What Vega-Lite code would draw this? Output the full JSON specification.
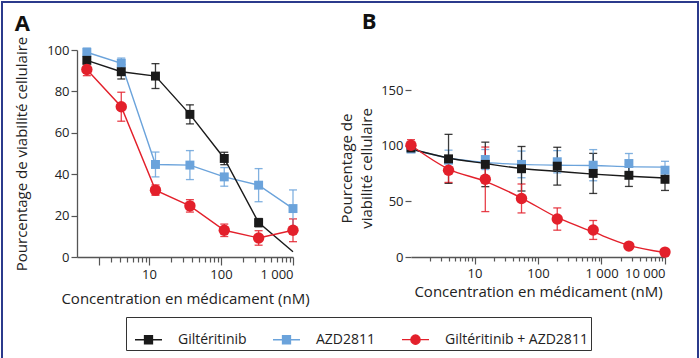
{
  "$schema": "https://vega.github.io/schema/vega-lite/v6.json",
  "background": "white",
  "padding": 1,
  "datasets": {
    "a": [
      {"series": "AZD2811", "conc": 1.37, "mean": 98.9, "err": 2},
      {"series": "AZD2811", "conc": 4.12, "mean": 93.6, "err": 2.5},
      {"series": "AZD2811", "conc": 12.3, "mean": 44.7, "err": 6},
      {"series": "AZD2811", "conc": 37, "mean": 44.4, "err": 7},
      {"series": "AZD2811", "conc": 111, "mean": 38.7, "err": 4.5},
      {"series": "AZD2811", "conc": 333, "mean": 34.7, "err": 8},
      {"series": "AZD2811", "conc": 1000, "mean": 23.4, "err": 9},
      {"series": "Giltéritinib", "conc": 1.37, "mean": 95, "err": 3},
      {"series": "Giltéritinib", "conc": 4.12, "mean": 89.5, "err": 3.5},
      {"series": "Giltéritinib", "conc": 12.3, "mean": 87.4, "err": 6},
      {"series": "Giltéritinib", "conc": 37, "mean": 68.9, "err": 4.6},
      {"series": "Giltéritinib", "conc": 111, "mean": 47.6, "err": 3},
      {"series": "Giltéritinib", "conc": 333, "mean": 16.6, "err": 2},
      {"series": "Giltéritinib", "conc": 1000, "mean": 2.5, "err": 0},
      {"series": "Giltéritinib + AZD2811", "conc": 1.37, "mean": 90.6, "err": 3},
      {"series": "Giltéritinib + AZD2811", "conc": 4.12, "mean": 72.6, "err": 7},
      {"series": "Giltéritinib + AZD2811", "conc": 12.3, "mean": 32.3, "err": 2.5},
      {"series": "Giltéritinib + AZD2811", "conc": 37, "mean": 24.7, "err": 3},
      {"series": "Giltéritinib + AZD2811", "conc": 111, "mean": 12.9, "err": 3},
      {"series": "Giltéritinib + AZD2811", "conc": 333, "mean": 9.2, "err": 3.5},
      {"series": "Giltéritinib + AZD2811", "conc": 1000, "mean": 12.9, "err": 5.5}
    ],
    "b": [
      {"series": "AZD2811", "conc": 1, "mean": 97, "err": 2, "fit": 97},
      {"series": "AZD2811", "conc": 3.9, "mean": 87, "err": 9, "fit": 89},
      {"series": "AZD2811", "conc": 14.8, "mean": 87.6, "err": 9, "fit": 85},
      {"series": "AZD2811", "conc": 55, "mean": 83.2, "err": 12, "fit": 83.2},
      {"series": "AZD2811", "conc": 201, "mean": 85.6, "err": 10, "fit": 82.5},
      {"series": "AZD2811", "conc": 740, "mean": 82.5, "err": 14, "fit": 82.2},
      {"series": "AZD2811", "conc": 2700, "mean": 84, "err": 9, "fit": 81.2},
      {"series": "AZD2811", "conc": 10000, "mean": 78, "err": 8, "fit": 80.8},
      {"series": "Giltéritinib", "conc": 1, "mean": 98, "err": 2, "fit": 97},
      {"series": "Giltéritinib", "conc": 3.9, "mean": 88.2, "err": 22, "fit": 89},
      {"series": "Giltéritinib", "conc": 14.8, "mean": 83.2, "err": 20, "fit": 84},
      {"series": "Giltéritinib", "conc": 55, "mean": 79.3, "err": 20, "fit": 79.5},
      {"series": "Giltéritinib", "conc": 201, "mean": 81.6, "err": 17, "fit": 77},
      {"series": "Giltéritinib", "conc": 740, "mean": 75.1, "err": 18, "fit": 74.5},
      {"series": "Giltéritinib", "conc": 2700, "mean": 73.4, "err": 10, "fit": 72.5},
      {"series": "Giltéritinib", "conc": 10000, "mean": 69.8, "err": 10, "fit": 71},
      {"series": "Giltéritinib + AZD2811", "conc": 1, "mean": 100.4, "err": 5, "fit": 100.4},
      {"series": "Giltéritinib + AZD2811", "conc": 3.9, "mean": 78, "err": 11, "fit": 79},
      {"series": "Giltéritinib + AZD2811", "conc": 14.8, "mean": 69.8, "err": 29, "fit": 68},
      {"series": "Giltéritinib + AZD2811", "conc": 55, "mean": 52.6, "err": 13, "fit": 53},
      {"series": "Giltéritinib + AZD2811", "conc": 201, "mean": 34.1, "err": 10, "fit": 35.5},
      {"series": "Giltéritinib + AZD2811", "conc": 740, "mean": 24.3, "err": 8.5, "fit": 22.5},
      {"series": "Giltéritinib + AZD2811", "conc": 2700, "mean": 9.8, "err": 0, "fit": 10.5},
      {"series": "Giltéritinib + AZD2811", "conc": 10000, "mean": 4.4, "err": 0, "fit": 4}
    ]
  },
  "config": {
    "font": "Open Sans",
    "view": {"stroke": null},
    "axis": {
      "domainColor": "#555555",
      "tickColor": "#555555",
      "labelFont": "Open Sans",
      "labelFontSize": 13,
      "labelColor": "#222222",
      "titleFont": "Open Sans",
      "titleFontSize": 15,
      "titleFontWeight": "normal",
      "titleColor": "#222222",
      "grid": false,
      "tickSize": 6,
      "domainWidth": 1.3,
      "tickWidth": 1.2
    },
    "title": {"font": "Open Sans", "fontSize": 22, "fontWeight": "bold", "anchor": "start", "frame": "bounds", "color": "#111111"}
  },
  "spacing": 29,
  "hconcat": [
    {
      "width": 216,
      "height": 207,
      "title": {"text": "A", "offset": 0},
      "data": {"name": "a"},
      "encoding": {
        "x": {
          "field": "conc", "type": "quantitative",
          "scale": {"type": "log", "domain": [1, 1000], "nice": false},
          "axis": {
            "title": "Concentration en médicament (nM)",
            "values": [2, 3, 4, 5, 6, 7, 8, 9, 10, 20, 30, 40, 50, 60, 70, 80, 90, 100, 200, 300, 400, 500, 600, 700, 800, 900, 1000],
            "labelExpr": "datum.value == 10 ? '10' : datum.value == 100 ? '100' : datum.value == 1000 ? '1 000' : ''",
            "tickSize": {"condition": {"test": "datum.value == 2 || datum.value == 10 || datum.value == 100 || datum.value == 1000", "value": 8}, "value": 5},
            "labelPadding": 3,
            "titlePadding": 10
          }
        },
        "color": {
          "field": "series", "type": "nominal",
          "scale": {"domain": ["Giltéritinib", "AZD2811", "Giltéritinib + AZD2811"], "range": ["#1a1a1a", "#6ba3db", "#e3202b"]}
        }
      },
      "layer": [
        {
          "mark": {"type": "line", "strokeWidth": 1.4},
          "encoding": {
            "y": {"field": "mean", "type": "quantitative", "title": "Pourcentage de viabilité cellulaire", "scale": {"domain": [0, 100], "nice": false}, "axis": {"values": [0, 20, 40, 60, 80, 100], "titlePadding": 17}}
          }
        },
        {
          "transform": [{"filter": "datum.conc < 1000 || datum.series != 'Giltéritinib'"}],
          "mark": {"type": "errorbar", "ticks": {"size": 8}, "thickness": 1.3, "opacity": 0.85},
          "encoding": {
            "y": {"field": "mean", "type": "quantitative", "title": "Pourcentage de viabilité cellulaire"},
            "yError": {"field": "err"}
          }
        },
        {
          "transform": [{"filter": "datum.series != 'Giltéritinib + AZD2811' && (datum.conc < 1000 || datum.series != 'Giltéritinib')"}],
          "mark": {"type": "point", "shape": "square", "size": 80, "filled": true, "opacity": 1},
          "encoding": {
            "y": {"field": "mean", "type": "quantitative", "title": "Pourcentage de viabilité cellulaire"},
            "color": {
              "field": "series", "type": "nominal",
              "legend": {
                "title": null,
                "orient": "none",
                "legendX": 49,
                "legendY": 267,
                "direction": "horizontal",
                "columns": 3,
                "strokeColor": "#333333",
                "padding": 3,
                "columnPadding": 20,
                "labelOffset": 10,
                "labelFont": "Open Sans",
                "labelFontSize": 14,
                "labelColor": "#222222",
                "symbolSize": 1369,
                "symbolStrokeWidth": 1.3,
                "symbolOpacity": 1,
                "symbolType": "M-0.73,0H-0.216M0.216,0H0.73M-0.216,-0.216H0.216V0.216H-0.216Z",
                "encode": {
                  "symbols": {
                    "update": {
                      "shape": {"signal": "datum.value == 'Giltéritinib + AZD2811' ? 'M-0.73,0H-0.25M0.25,0H0.73M0.25,0A0.25,0.25,0,1,1,-0.25,0A0.25,0.25,0,1,1,0.25,0Z' : 'M-0.73,0H-0.216M0.216,0H0.73M-0.216,-0.216H0.216V0.216H-0.216Z'"},
                      "size": {"value": 1369},
                      "fill": {"scale": "color", "field": "value"},
                      "stroke": {"scale": "color", "field": "value"},
                      "strokeWidth": {"value": 1.3},
                      "opacity": {"value": 1}
                    }
                  }
                }
              }
            }
          }
        },
        {
          "transform": [{"filter": "datum.series == 'Giltéritinib + AZD2811'"}],
          "mark": {"type": "point", "shape": "circle", "size": 130, "filled": true, "opacity": 1},
          "encoding": {
            "y": {"field": "mean", "type": "quantitative", "title": "Pourcentage de viabilité cellulaire"}
          }
        }
      ]
    },
    {
      "width": 254,
      "height": 207,
      "title": {"text": "B", "offset": 16, "dx": 22},
      "data": {"name": "b"},
      "encoding": {
        "x": {
          "field": "conc", "type": "quantitative",
          "scale": {"type": "log", "domain": [1, 10000], "nice": false},
          "axis": {
            "title": "Concentration en médicament (nM)",
            "values": [2, 3, 4, 5, 6, 7, 8, 9, 10, 20, 30, 40, 50, 60, 70, 80, 90, 100, 200, 300, 400, 500, 600, 700, 800, 900, 1000, 2000, 3000, 4000, 5000, 6000, 7000, 8000, 9000, 10000],
            "labelExpr": "datum.value == 10 ? '10' : datum.value == 100 ? '100' : datum.value == 1000 ? '1 000' : datum.value == 10000 ? '10 000' : ''",
            "tickSize": {"condition": {"test": "datum.value == 10 || datum.value == 100 || datum.value == 1000 || datum.value == 10000", "value": 7}, "value": 4},
            "labelPadding": 3,
            "titlePadding": 4
          }
        },
        "color": {"field": "series", "type": "nominal"}
      },
      "layer": [
        {
          "data": {"values": [{"f": 0}]},
          "mark": {"type": "rule", "color": "#555555", "strokeWidth": 1.3},
          "encoding": {
            "x": {"datum": 1, "type": "quantitative"},
            "y": {"datum": 0, "type": "quantitative"},
            "y2": {"datum": 150},
            "color": null
          }
        },
        {
          "data": {"values": [{"f": 0}]},
          "mark": {"type": "point", "opacity": 0, "filled": true},
          "encoding": {
            "x": {"datum": 1, "type": "quantitative"},
            "y": {"datum": 0, "type": "quantitative"},
            "color": null,
            "fill": {
              "field": "f", "type": "quantitative",
              "scale": {"domain": [0, 1], "range": ["#ffffff", "#ffffff"]},
              "legend": {
                "orient": "none",
                "legendX": -75,
                "legendY": -48,
                "direction": "horizontal",
                "title": null,
                "labels": false,
                "padding": 0,
                "gradientLength": 696,
                "gradientThickness": 354,
                "gradientStrokeWidth": 0,
                "strokeColor": "#2b3a8c",
                "encode": {
                  "legend": {"update": {"strokeWidth": {"value": 2}}},
                  "gradient": {"update": {"opacity": {"value": 0}}}
                }
              }
            }
          }
        },
        {
          "mark": {"type": "line", "strokeWidth": 1.4, "interpolate": "monotone"},
          "encoding": {
            "y": {"field": "fit", "type": "quantitative", "title": ["Pourcentage de", "viabilité cellulaire"], "scale": {"domain": [0, 186], "nice": false}, "axis": {"values": [0, 50, 100, 150], "domain": false, "titlePadding": 6, "titleLineHeight": 20, "titleY": 118}}
          }
        },
        {
          "mark": {"type": "errorbar", "ticks": {"size": 8}, "thickness": 1.3, "opacity": 0.85},
          "encoding": {
            "y": {"field": "mean", "type": "quantitative", "title": ["Pourcentage de", "viabilité cellulaire"]},
            "yError": {"field": "err"}
          }
        },
        {
          "transform": [{"filter": "datum.series != 'Giltéritinib + AZD2811'"}],
          "mark": {"type": "point", "shape": "square", "size": 80, "filled": true, "opacity": 1},
          "encoding": {
            "y": {"field": "mean", "type": "quantitative", "title": ["Pourcentage de", "viabilité cellulaire"]}
          }
        },
        {
          "transform": [{"filter": "datum.series == 'Giltéritinib + AZD2811'"}],
          "mark": {"type": "point", "shape": "circle", "size": 130, "filled": true, "opacity": 1},
          "encoding": {
            "y": {"field": "mean", "type": "quantitative", "title": ["Pourcentage de", "viabilité cellulaire"]}
          }
        }
      ]
    }
  ]
}
